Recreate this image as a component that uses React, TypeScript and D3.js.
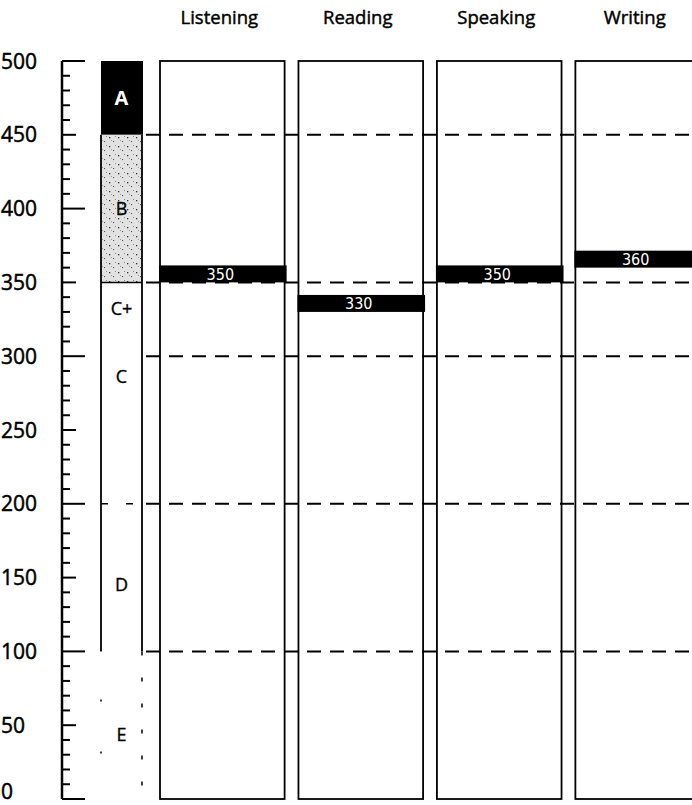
import React from "react";
import * as d3 from "d3";

const skills = ["Listening", "Reading", "Speaking", "Writing"];
const scores = [350, 330, 350, 360];
const yTicks = [0, 50, 100, 150, 200, 250, 300, 350, 400, 450, 500];
const gridValues = [450, 350, 300, 200, 100];
const gradeLabels = ["A", "B", "C+", "C", "D", "E"];
const gradeLabelValues = [475, 400, 332, 286, 145, 44];

const W = 692;
const H = 805;

export default function App() {
  const y = d3.scaleLinear().domain([0, 500]).range([799, 61]);
  const x = d3.scaleBand<string>().domain(skills).range([160, 700]).paddingInner(0.1).paddingOuter(0);
  const minor = d3.range(0, 501, 10);
  const axisX = 62;
  const bandL = 101;
  const bandR = 142;
  const sans = "'Open Sans', 'Noto Sans', sans-serif";
  const cond = "'DejaVu Sans Condensed', 'Liberation Sans Narrow', sans-serif";

  return (
    <svg width={W} height={H} style={{ position: "absolute", left: 0, top: 0, background: "#fff" }}>
      <defs>
        <pattern id="stip" width="9" height="9" patternUnits="userSpaceOnUse">
          <rect width="9" height="9" fill="#e2e2e2" />
          <rect x="1" y="2" width="1.3" height="1.3" fill="#333" />
          <rect x="5" y="6" width="1.1" height="1.1" fill="#555" />
          <rect x="7" y="1" width="0.9" height="0.9" fill="#777" />
          <rect x="3" y="5" width="0.9" height="0.9" fill="#888" />
        </pattern>
        <clipPath id="clip">
          <rect x={0} y={0} width={W} height={H} />
        </clipPath>
      </defs>

      {/* headers */}
      {skills.map((s) => (
        <text key={s} x={(x(s) as number) + x.bandwidth() / 2 - 3} y={24} textAnchor="middle"
          fontFamily={sans} fontSize={18.5} fill="#000" stroke="#000" strokeWidth={0.45}>{s}</text>
      ))}

      {/* y axis */}
      <line x1={axisX} x2={axisX} y1={y(500)} y2={y(0)} stroke="#000" strokeWidth={2.5} />
      {minor.map((v) => {
        const len = v % 100 === 0 ? 23 : v % 50 === 0 ? 14 : 8;
        return <line key={v} x1={axisX} x2={axisX + len} y1={y(v)} y2={y(v)} stroke="#000" strokeWidth={2} />;
      })}
      {yTicks.map((v) => (
        <text key={v} x={1} y={Math.min(y(v), 791)} dy="0.36em" fontFamily={sans} fontSize={21}
          fill="#000" stroke="#000" strokeWidth={0.5}>{v}</text>
      ))}

      {/* grade band column */}
      <rect x={bandL} y={y(500)} width={bandR - bandL + 1} height={y(450) - y(500)} fill="#000" />
      <rect x={bandL} y={y(450)} width={bandR - bandL} height={y(350) - y(450)} fill="url(#stip)" />
      <line x1={bandL} x2={bandL} y1={y(450)} y2={y(100)} stroke="#000" strokeWidth={1.8} />
      <line x1={bandR} x2={bandR} y1={y(450)} y2={y(100)} stroke="#000" strokeWidth={1.8} />
      <line x1={bandL} x2={bandR} y1={y(350)} y2={y(350)} stroke="#000" strokeWidth={1.5} />
      <line x1={bandL} x2={bandR} y1={y(200)} y2={y(200)} stroke="#000" strokeWidth={1.5} strokeDasharray="7,18" />
      <line x1={bandL} x2={bandL} y1={y(100)} y2={y(0)} stroke="#000" strokeWidth={1.5} strokeDasharray="2,50" strokeDashoffset={-48} />
      <line x1={bandR} x2={bandR} y1={y(100)} y2={y(0)} stroke="#000" strokeWidth={1.5} strokeDasharray="4,22" strokeDashoffset={-52} />
      {gradeLabels.map((g, i) => (
        <text key={g} x={(bandL + bandR) / 2} y={y(gradeLabelValues[i])} dy="0.36em" textAnchor="middle"
          fontFamily={sans} fontSize={g === "A" ? 20 : 18} fill={g === "A" ? "#fff" : "#000"}
          fontWeight={g === "A" ? 700 : 400} stroke={g === "A" ? "none" : "#000"} strokeWidth={0.35}>{g}</text>
      ))}

      {/* panels */}
      <g clipPath="url(#clip)">
        {skills.map((s) => (
          <rect key={s} x={x(s)} y={y(500)} width={x.bandwidth()} height={y(0) - y(500)}
            fill="none" stroke="#000" strokeWidth={1.8} />
        ))}
        {gridValues.map((v) => (
          <line key={v} x1={bandR + 4} x2={W} y1={y(v)} y2={y(v)} stroke="#000" strokeWidth={2}
            strokeDasharray="14,9" />
        ))}
        {skills.map((s, i) => (
          <g key={s}>
            <rect x={(x(s) as number) - 1} y={y(scores[i] + 11.5)} width={x.bandwidth() + 3}
              height={y(scores[i]) - y(scores[i] + 11.5)} fill="#000" />
            <text x={(x(s) as number) + x.bandwidth() / 2 - 2} y={y(scores[i] + 5.7)} dy="0.36em"
              textAnchor="middle" fontFamily={cond} fontSize={16} fill="#fff">{scores[i]}</text>
          </g>
        ))}
      </g>
    </svg>
  );
}
